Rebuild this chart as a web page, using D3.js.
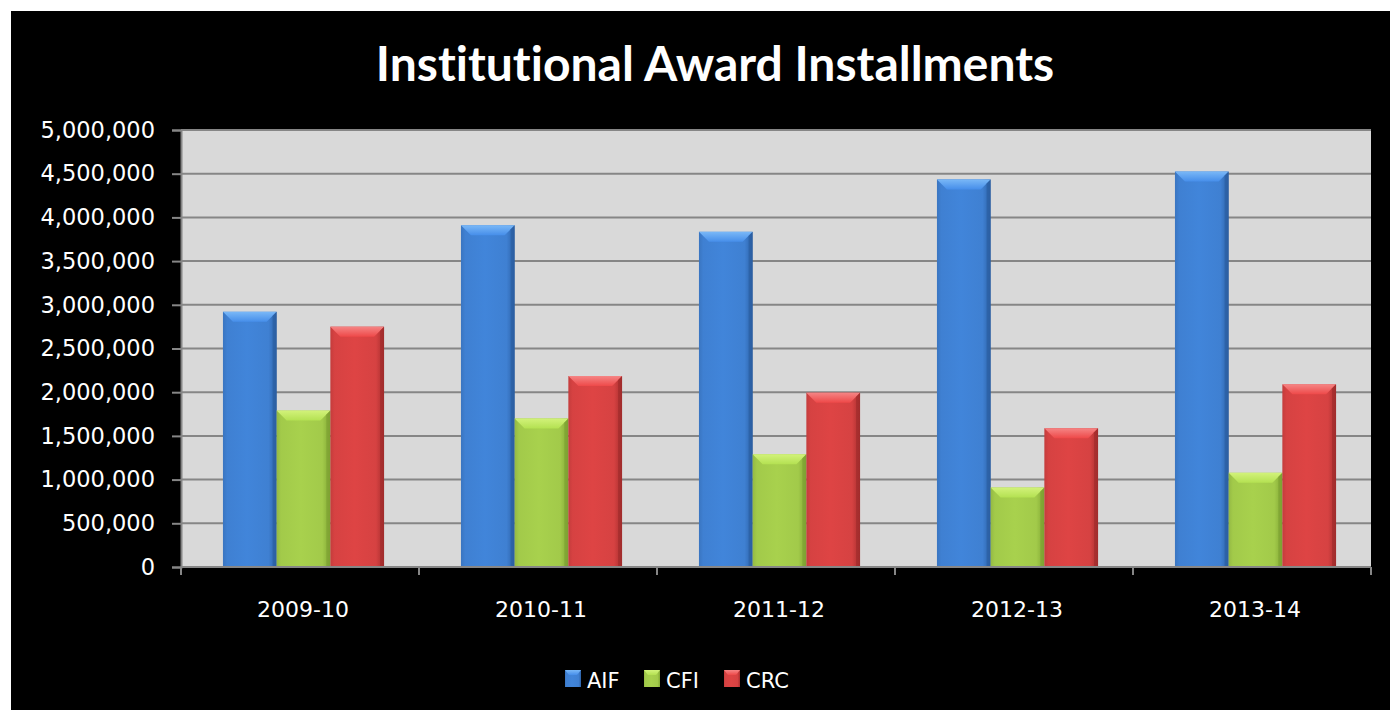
<!DOCTYPE html>
<html>
<head>
<meta charset="utf-8">
<script src="https://cdn.jsdelivr.net/npm/d3@7"></script>
<style>
  body { margin: 0; background: #fff; }
  svg { display: block; }
</style>
</head>
<body>
<svg width="1390" height="710"></svg>
<script>
// Data
var years = ["2009-10", "2010-11", "2011-12", "2012-13", "2013-14"];
var seriesNames = ["AIF", "CFI", "CRC"];
var aif = [2920000, 3910000, 3835000, 4435000, 4525000];
var cfi = [1790000, 1700000, 1290000, 910000, 1078000];
var crc = [2750000, 2185000, 1995000, 1588000, 2090000];
var yTicks = [0, 500000, 1000000, 1500000, 2000000, 2500000, 3000000, 3500000, 4000000, 4500000, 5000000];
var values = { AIF: aif, CFI: cfi, CRC: crc };

var svg = d3.select("svg");
var width = 1390, height = 710;

// Colours: [edge dark, centre, top light]
var colors = {
  AIF: ["#2d62a8", "#3f80d2", "#7ab8f7"],
  CFI: ["#82a834", "#a2ca4a", "#d2f27a"],
  CRC: ["#a82e2e", "#d64242", "#f58585"]
};

var margin = { left: 181, right: 19, top: 130, bottom: 143 };
var plotW = 1371 - 181, plotH = 567 - 130;

// black frame
svg.append("rect").attr("x", 11).attr("y", 11)
  .attr("width", width - 11).attr("height", height - 11).attr("fill", "#000");

var defs = svg.append("defs");
seriesNames.forEach(function (s) {
  var c = colors[s];
  var g = defs.append("linearGradient").attr("id", "side-" + s)
    .attr("x1", 0).attr("x2", 1).attr("y1", 0).attr("y2", 0);
  g.append("stop").attr("offset", "0%").attr("stop-color", d3.color(c[1]).darker(0.25));
  g.append("stop").attr("offset", "8%").attr("stop-color", c[1]);
  g.append("stop").attr("offset", "45%").attr("stop-color", d3.color(c[1]).brighter(0.1));
  g.append("stop").attr("offset", "85%").attr("stop-color", c[1]);
  g.append("stop").attr("offset", "100%").attr("stop-color", c[0]);
  var t = defs.append("linearGradient").attr("id", "top-" + s)
    .attr("x1", 0).attr("x2", 0).attr("y1", 0).attr("y2", 1);
  t.append("stop").attr("offset", "0%").attr("stop-color", c[2]);
  t.append("stop").attr("offset", "100%").attr("stop-color", d3.color(c[1]).brighter(0.3));
});

var x0 = d3.scaleBand().domain(years).range([margin.left, margin.left + plotW]).padding(0);
var x1 = d3.scaleBand().domain(seriesNames).range([0, x0.bandwidth()])
  .paddingInner(0).paddingOuter(0.716);
var y = d3.scaleLinear().domain([0, 5000000]).range([margin.top + plotH, margin.top]);
var shift = 3.5;

// plot background
svg.append("rect").attr("x", margin.left).attr("y", margin.top)
  .attr("width", plotW).attr("height", plotH).attr("fill", "#d9d9d9");

// gridlines
svg.append("g").selectAll("line").data(yTicks.slice(1)).enter().append("line")
  .attr("x1", margin.left).attr("x2", margin.left + plotW)
  .attr("y1", function (d) { return y(d); }).attr("y2", function (d) { return y(d); })
  .attr("stroke", "#868686").attr("stroke-width", 2);

// title
svg.append("text").attr("x", 715).attr("y", 81).attr("text-anchor", "middle")
  .attr("fill", "#fff").attr("font-family", "Lato, sans-serif")
  .attr("font-weight", "bold").attr("font-size", 48)
  .style("font-variant-ligatures", "none")
  .text("Institutional Award Installments");

// bars
var bevel = 10;
var groups = svg.append("g").selectAll("g").data(years).enter().append("g")
  .attr("transform", function (d) { return "translate(" + (x0(d) + shift) + ",0)"; });

groups.each(function (yr, i) {
  var g = d3.select(this);
  seriesNames.forEach(function (s) {
    var v = values[s][i];
    var bx = x1(s), bw = x1.bandwidth(), by = y(v), bh = y(0) - y(v);
    g.append("rect").attr("x", bx).attr("y", by).attr("width", bw).attr("height", bh)
      .attr("fill", "url(#side-" + s + ")");
    g.append("polygon")
      .attr("points", [[bx, by], [bx + bw, by], [bx + bw - bevel, by + bevel], [bx + bevel, by + bevel]].join(" "))
      .attr("fill", "url(#top-" + s + ")");
    g.append("polygon")
      .attr("points", [[bx + bw, by], [bx + bw, by + bh], [bx + bw - 4, by + bh], [bx + bw - 4, by + 4]].join(" "))
      .attr("fill", d3.color(colors[s][0]).darker(0.2)).attr("opacity", 0.6);
  });
});

// y axis
var yAxis = svg.append("g").attr("transform", "translate(" + margin.left + ",0)")
  .call(d3.axisLeft(y).tickValues(yTicks).tickFormat(d3.format(",")).tickSize(9).tickPadding(17));
yAxis.select(".domain").attr("stroke", "#868686").attr("stroke-width", 2);
yAxis.selectAll(".tick line").attr("stroke", "#868686").attr("stroke-width", 2);
yAxis.selectAll("text").attr("fill", "#fff").attr("font-family", "DejaVu Sans, sans-serif")
  .attr("font-size", 22.5);

// x axis
var xAxisG = svg.append("g");
xAxisG.append("line").attr("x1", margin.left).attr("x2", margin.left + plotW)
  .attr("y1", y(0)).attr("y2", y(0)).attr("stroke", "#868686").attr("stroke-width", 2);
var bounds = years.map(function (d) { return x0(d); }).concat([x0(years[years.length - 1]) + x0.bandwidth()]);
xAxisG.selectAll("line.tk").data(bounds).enter().append("line").attr("class", "tk")
  .attr("x1", function (d) { return d; }).attr("x2", function (d) { return d; })
  .attr("y1", y(0)).attr("y2", y(0) + 8).attr("stroke", "#868686").attr("stroke-width", 2);
xAxisG.selectAll("text").data(years).enter().append("text")
  .attr("x", function (d) { return x0(d) + x0.bandwidth() / 2 + 3; })
  .attr("y", 617).attr("text-anchor", "middle").attr("fill", "#fff")
  .attr("font-family", "DejaVu Sans, sans-serif").attr("font-size", 22)
  .text(function (d) { return d; });

// legend
var legendX = [565, 644, 724];
var legend = svg.append("g").selectAll("g").data(seriesNames).enter().append("g")
  .attr("transform", function (d, i) { return "translate(" + legendX[i] + ",670)"; });
legend.append("rect").attr("width", 16).attr("height", 17)
  .attr("fill", function (d) { return "url(#side-" + d + ")"; });
legend.append("polygon").attr("points", "0,0 16,0 12,5 4,5")
  .attr("fill", function (d) { return "url(#top-" + d + ")"; });
legend.append("text").attr("x", 22).attr("y", 17.5).attr("fill", "#fff")
  .attr("font-family", "DejaVu Sans, sans-serif").attr("font-size", 21)
  .text(function (d) { return d; });
</script>
</body>
</html>
